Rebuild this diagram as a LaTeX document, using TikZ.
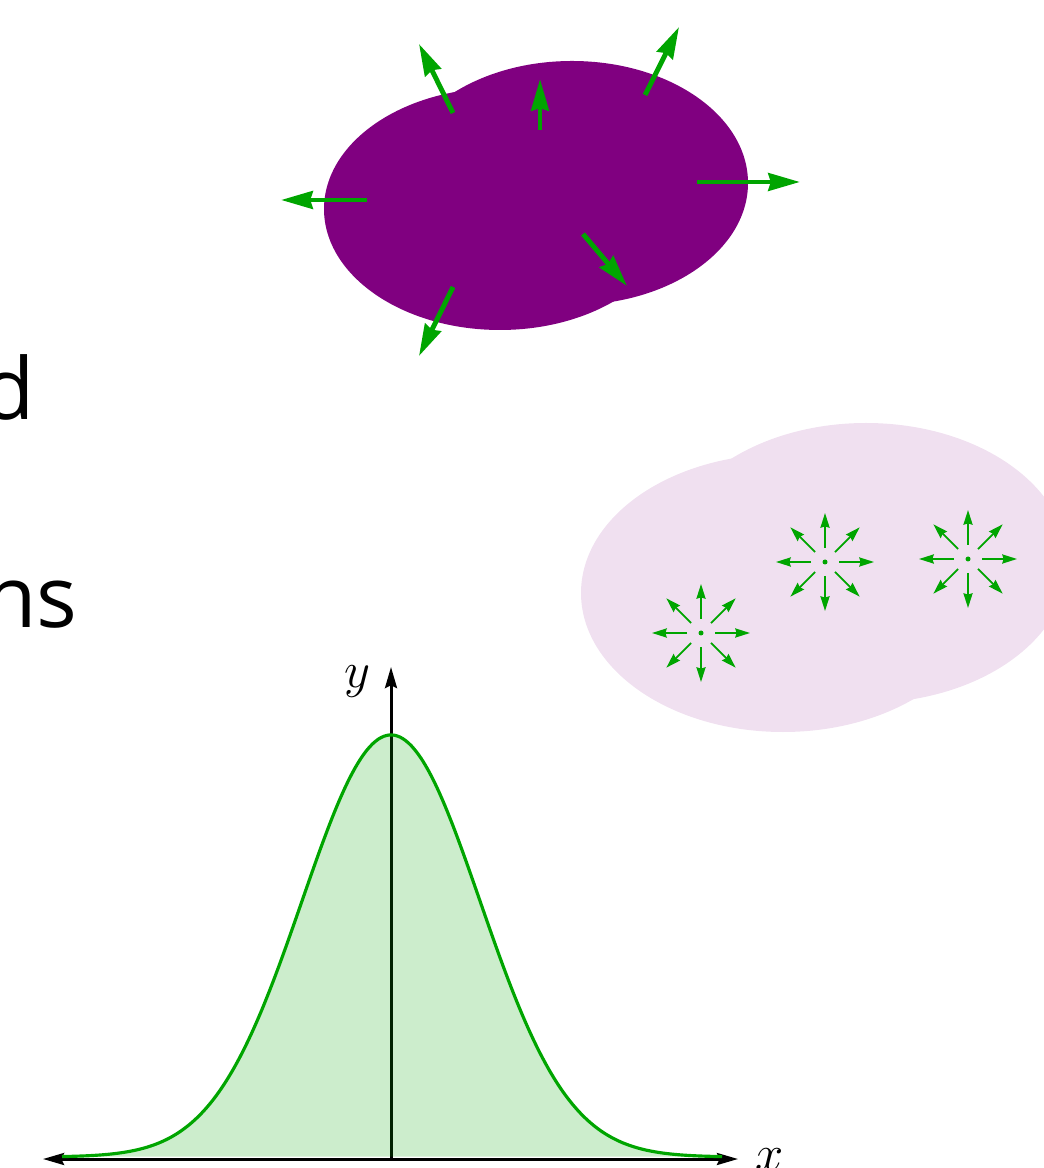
\documentclass[tikz,border=0pt]{standalone}
\usepackage{fontspec}
\setmainfont{Open Sans}
\usetikzlibrary{arrows.meta}
\definecolor{blobpurple}{RGB}{128,0,128}
\definecolor{fieldgreen}{RGB}{0,165,0}
\begin{document}
\begin{tikzpicture}[x=0.01cm,y=-0.01cm,
  bigarrow/.style={-{Stealth[length=9pt,width=5pt,inset=0.7pt]},line width=1.4pt,fieldgreen},
  smallarrow/.style={-{Stealth[length=4.2pt,width=2.6pt,inset=0.4pt]},line width=0.5pt,fieldgreen},
  axisline/.style={{Stealth[length=6pt,width=3.4pt,inset=0.8pt]}-{Stealth[length=6pt,width=3.4pt,inset=0.8pt]},line width=0.85pt},
  slidetext/.style={font=\fontsize{24.3}{29}\selectfont,inner sep=0pt}]
  \useasboundingbox (0,0) rectangle (1043,1168);
  % solid charge blob
  \fill[blobpurple] (500,209) ellipse [x radius=176, y radius=121];
  \fill[blobpurple] (572,183) ellipse [x radius=176, y radius=122];
  \draw[bigarrow] (453,113) -- (419,44);
  \draw[bigarrow] (540,130) -- (540,79);
  \draw[bigarrow] (645,95) -- (679,27);
  \draw[bigarrow] (697,182) -- (800,182);
  \draw[bigarrow] (367,200) -- (281,200);
  \draw[bigarrow] (453,287) -- (419,356);
  \draw[bigarrow] (583,234) -- (627,286);
  % slide text, cut at the left edge
  \node[slidetext,anchor=base east] (wordd) at (36,420) {d};
  \node[slidetext,anchor=base east] (wordns) at (78,628) {ns};
  % faint blob with point sources
  \fill[blobpurple!12] (783,593) ellipse [x radius=202, y radius=139];
  \fill[blobpurple!12] (866,563) ellipse [x radius=202, y radius=140];
  \foreach \cx/\cy in {701/633,825/562,968/559}{
    \fill[fieldgreen] (\cx,\cy) circle [radius=2.5];
    \foreach \a in {0,45,...,315}
      \draw[smallarrow] (\cx,\cy) ++(\a:14) -- ++(\a:35);
  }
  % gaussian
  \draw[axisline] (43,1159) -- (738,1159);
  \draw[-{Stealth[length=6pt,width=3.4pt,inset=0.8pt]},line width=0.85pt] (391,1159) -- (391,667);
  \draw[fieldgreen,line width=0.9pt,fill=fieldgreen,fill opacity=0.2]
    plot[domain=-329:331,samples=120,smooth] ({391+\x},{1157-422*exp(-(\x/89)^2/2)});
  \node[font=\fontsize{14}{17}\selectfont] (ylab) at (357,682) {$y$};
  \node[font=\fontsize{14}{17}\selectfont] (xlab) at (770,1160) {$x$};
\end{tikzpicture}
\end{document}
